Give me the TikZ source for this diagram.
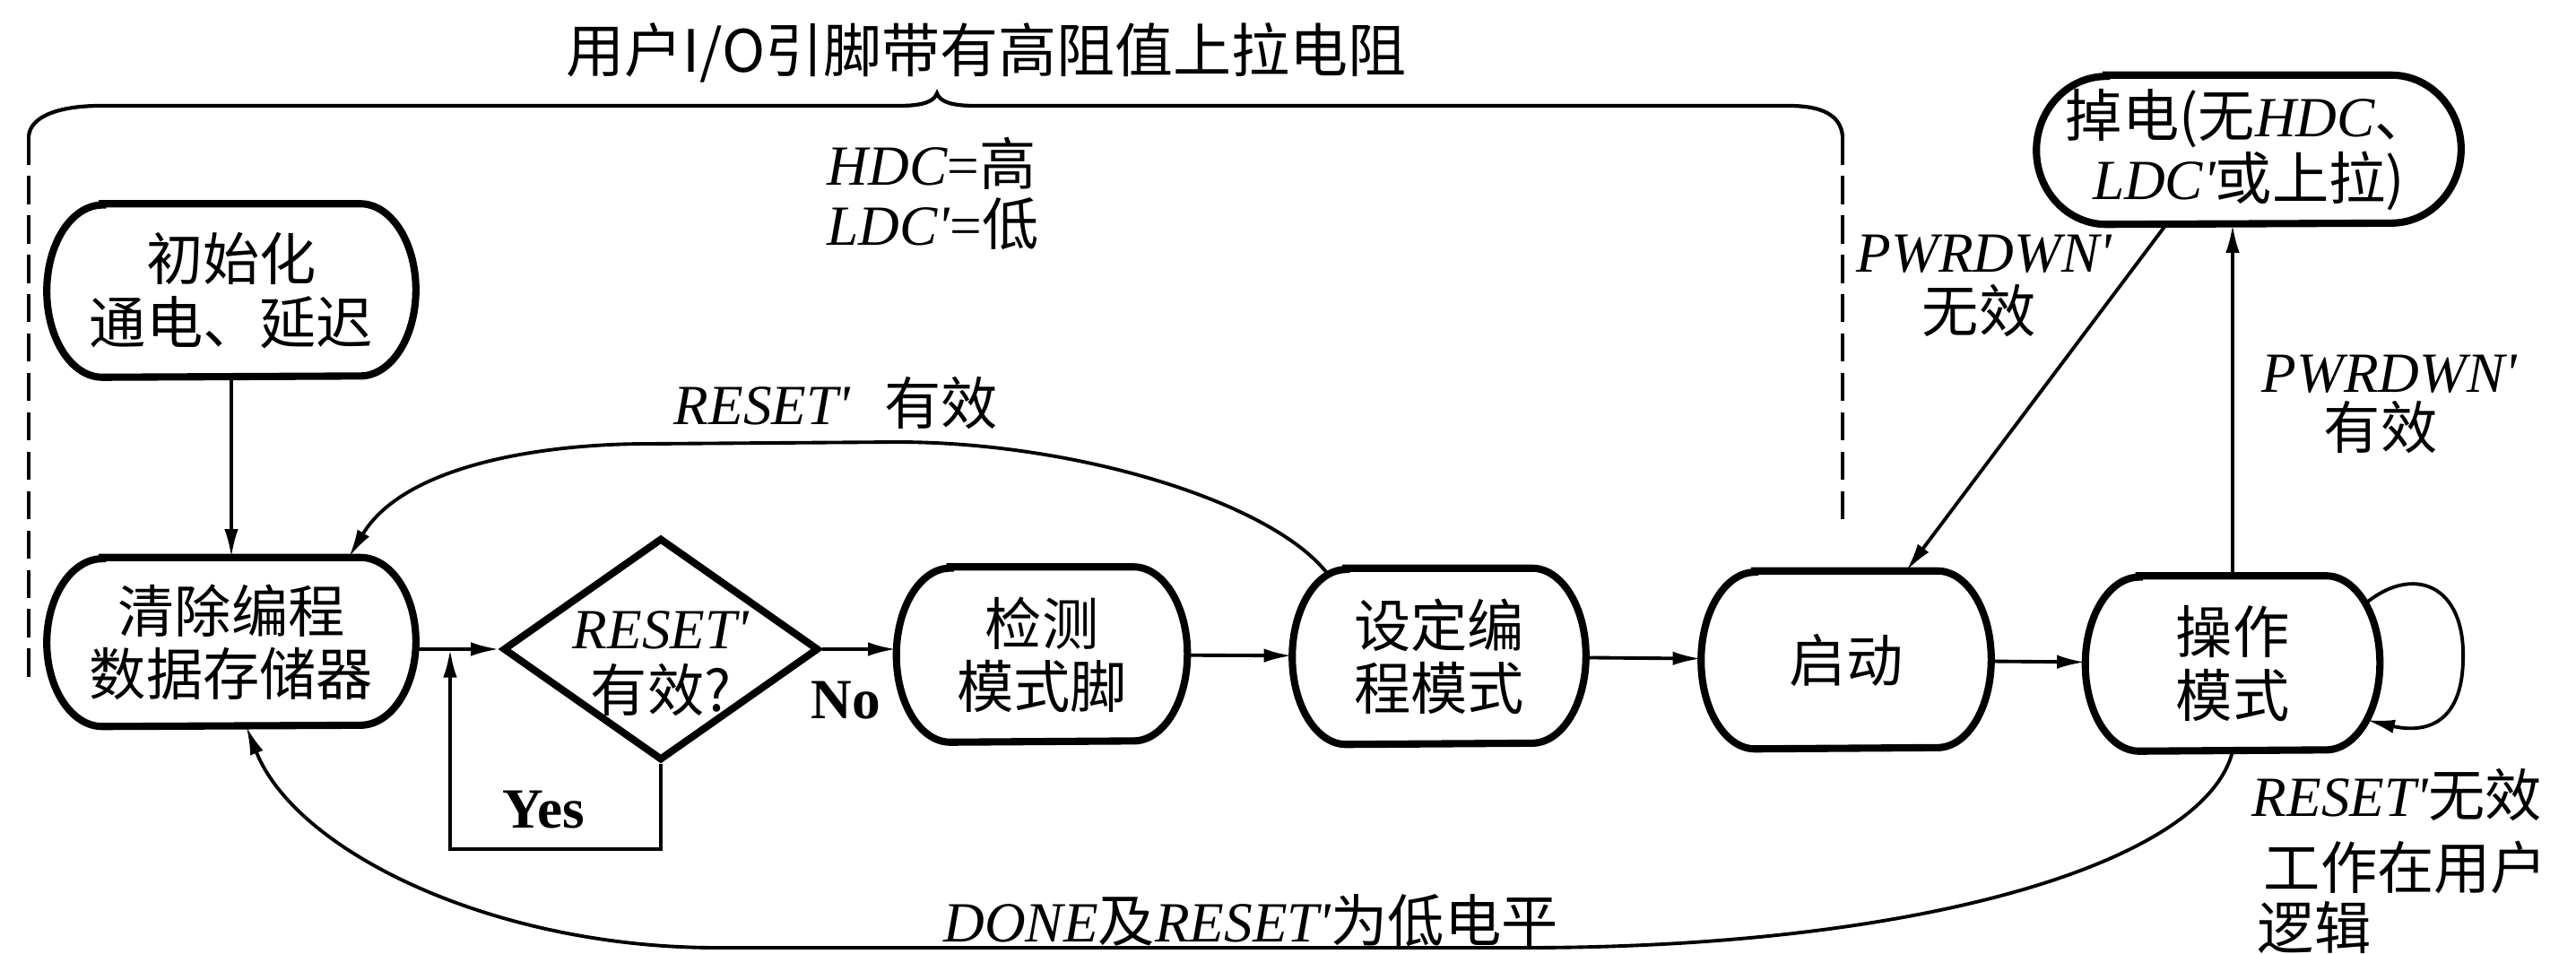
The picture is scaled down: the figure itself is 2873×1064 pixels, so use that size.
\documentclass[tikz,border=0pt]{standalone}
\usepackage{fontspec}
\setmainfont{Liberation Serif}
\newfontfamily\cjk{Noto Sans CJK SC}
\usetikzlibrary{arrows.meta,shapes.geometric,calc}
\newcommand\Lit[1]{{\rmfamily\itshape #1}}
\newcommand\prm{\textquotesingle}
% #1 name, #2 x, #3 y, #4 width (cm), #5 height (cm), #6 end x-radius (cm), #7 text
\newcommand\ovalnode[7]{%
  \node[nodetext, minimum width=#4cm, minimum height=#5cm] (#1) at (#2,#3) {#7};
  \draw[border] ($(#1.north west)+(#6cm,0cm)$) -- ($(#1.north east)+(-#6cm,0cm)$)
    arc[start angle=90, end angle=-90, x radius=#6cm, y radius=#5*0.5cm]
    -- ($(#1.south west)+(#6cm,0cm)$)
    arc[start angle=270, end angle=90, x radius=#6cm, y radius=#5*0.5cm] -- cycle;}
\begin{document}
\begin{tikzpicture}[x=0.01cm,y=-0.01cm,
  border/.style={line width=2.3pt},
  nodetext/.style={inner sep=0pt, align=center, font=\cjk\fontsize{18pt}{20pt}\selectfont},
  lbl/.style={inner sep=0pt, align=center, font=\cjk\fontsize{18pt}{20pt}\selectfont},
  yn/.style={inner sep=0pt, font=\rmfamily\bfseries\fontsize{18pt}{20pt}\selectfont},
  conn/.style={line width=1.1pt, -{Latex[length=9pt,width=4.4pt]}},
  frame/.style={line width=1.2pt},
  dashedframe/.style={line width=1pt, dash pattern=on 9pt off 3.5pt}]
\useasboundingbox (0,0) rectangle (2873,1064);

% title and brace
\node[lbl, font=\cjk\fontsize{18.5pt}{20pt}\selectfont] (title) at (1100,59) {用户I/O引脚带有高阻值上拉电阻};
\coordinate (bl) at (32,152);
\coordinate (br) at (2055,152);
\coordinate (blb) at (32,762);
\coordinate (brb) at (2055,588);
\draw[frame] (bl) .. controls (34,128) and (70,118) .. (112,118) -- (1003,118)
  .. controls (1030,118) and (1042,113) .. (1045,104)
  .. controls (1048,113) and (1060,118) .. (1087,118) -- (1995,118)
  .. controls (2035,118) and (2053,130) .. (br);
\draw[dashedframe] (bl) -- (blb);
\draw[dashedframe] (br) -- (brb);

\node[lbl, anchor=west] (hdc) at (922,182) {\Lit{HDC}{\rmfamily =}高};
\node[lbl, anchor=west] (ldc) at (922,250) {\Lit{LDC\prm}{\rmfamily =}低};

% nodes
\ovalnode{init}{258}{324}{4.1}{1.92}{0.62}{初始化\\通电、延迟}
\ovalnode{clear}{258}{716}{4.1}{1.87}{0.62}{清除编程\\数据存储器}
\node[draw, diamond, line width=2.3pt, minimum width=3.52cm, minimum height=2.48cm, inner sep=0pt] (dia) at (737,724) {};
\node[lbl] (diat) at (737,740) {\Lit{RESET\prm}\\有效?};
\ovalnode{detect}{1162}{730}{3.23}{1.94}{0.6}{检测\\模式脚}
\ovalnode{setm}{1605}{732}{3.26}{1.95}{0.6}{设定编\\程模式}
\ovalnode{start}{2059}{736}{3.22}{1.97}{0.6}{启动}
\ovalnode{oper}{2490}{740}{3.27}{1.94}{0.6}{操作\\模式}
\ovalnode{pd}{2508}{167}{4.72}{1.65}{0.78}{掉电(无\Lit{HDC}、\\\Lit{LDC\prm}或上拉)}

% connectors
\draw[conn] (init) -- (clear);
\coordinate (yj) at (502,724);
\draw[conn] (clear.east |- dia.west) -- (dia.west);
\draw[conn] (dia.south) -- ++(0,95) -| (yj);
\draw[conn] (dia.east) -- (dia.east -| detect.west);
\draw[conn] (detect) -- (setm);
\draw[conn] (setm) -- (start);
\draw[conn] (start) -- (oper);
\draw[conn] ($(setm.north west)+(40,7)$) .. controls (1420,560) and (1200,493) .. (1000,493)
  -- (723,495) .. controls (600,495) and (450,520) .. ($(clear.north)+(131,0)$);
\draw[conn] (oper.south) .. controls (2460,960) and (2150,1057) .. (1700,1057)
  -- (800,1057) .. controls (550,1057) and (330,950) .. (clear.-80);
\draw[conn] ($(oper.east)+(-16,-67)$) .. controls (2690,630) and (2750,650) .. (2747,737)
  .. controls (2745,820) and (2690,815) .. ($(oper.east)+(-15,63)$);
\draw[conn] ($(pd.south)+(-92,0)$) -- ($(start.north)+(67,0)$);
\draw[conn] (oper.north) -- (oper.north |- pd.south);

% labels
\node[lbl, anchor=west] (rl) at (751,450) {\Lit{RESET\prm}\hspace{0.6em}有效};
\node[yn] (yes) at (606,903) {Yes};
\node[yn] (no) at (943,781) {No};
\node[lbl] (donel) at (1395,1027) {\Lit{DONE}及\Lit{RESET\prm}为低电平};
\node[lbl] (pw1) at (2213,283) {\Lit{PWRDWN\prm}};
\node[lbl] (pw1b) at (2207,347) {无效};
\node[lbl] (pw2) at (2665,417) {\Lit{PWRDWN\prm}};
\node[lbl] (pw2b) at (2655,477) {有效};
\node[lbl, anchor=west] (r1) at (2511,887) {\Lit{RESET\prm}无效};
\node[lbl, anchor=west] (r2) at (2524,967) {工作在用户};
\node[lbl, anchor=west] (r3) at (2517,1034) {逻辑};
\end{tikzpicture}
\end{document}
